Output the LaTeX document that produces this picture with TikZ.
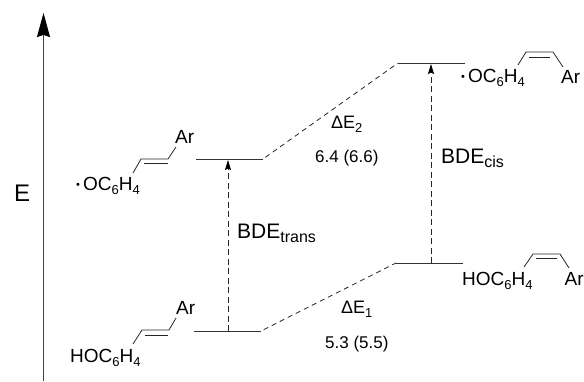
\documentclass[tikz,border=0pt]{standalone}
\usepackage{fontspec}
\setmainfont{Liberation Sans}
\usetikzlibrary{arrows.meta}
\tikzset{
  level/.style={draw=black!80,line width=0.9pt},
  link/.style={draw=black!85,line width=0.8pt,dash pattern=on 5pt off 4pt,shorten <=3pt},
  updash/.style={draw=black!85,line width=0.9pt,dash pattern=on 6pt off 3.5pt,-{Stealth[length=10pt,width=6pt,inset=1.5pt,color=black]}},
  bond/.style={draw=black!85,line width=0.8pt},
  chem/.style={inner sep=0pt,font=\fontsize{19}{19}\selectfont,anchor=base west},
  delta/.style={inner sep=0pt,font=\fontsize{18}{18}\selectfont,anchor=base west},
  lab/.style={inner sep=0pt,font=\fontsize{21}{21}\selectfont,anchor=base west},
  bigE/.style={inner sep=0pt,font=\fontsize{24}{24}\selectfont,anchor=base west},
  small/.style={inner sep=0pt,font=\fontsize{17}{17}\selectfont,anchor=base west}
}
\newcommand{\low}[1]{\raisebox{-4pt}{\fontsize{13}{13}\selectfont #1}}
\newcommand{\lowb}[1]{\raisebox{-4.5pt}{\fontsize{16}{16}\selectfont #1}}
\newcommand{\rdot}{\raisebox{2pt}{\fontsize{11}{11}\selectfont •}\hspace{3pt}}
\begin{document}
\begin{tikzpicture}[x=1pt,y=-1pt]
\useasboundingbox (0,0) rectangle (584,381);
\fill[white] (0,0) rectangle (584,381);
% axis
\coordinate (axb) at (43.5,381);
\coordinate (axt) at (43.5,13);
\draw[draw=black!75,line width=1pt,-{Stealth[length=24pt,width=13pt,inset=2pt,color=black]}] (axb) -- (axt);
\node[bigE] (e) at (14,201) {E};
% levels
\coordinate (tr1) at (196,159); \coordinate (tr2) at (263,159);
\coordinate (cr1) at (398,63);  \coordinate (cr2) at (465,63);
\coordinate (tp1) at (194,331); \coordinate (tp2) at (261,331);
\coordinate (cp1) at (396,263); \coordinate (cp2) at (463,263);
\draw[level] (tr1) -- (tr2);
\draw[level] (cr1) -- (cr2);
\draw[level] (tp1) -- (tp2);
\draw[level] (cp1) -- (cp2);
\draw[link] (tr2) -- (cr1);
\draw[link] (tp2) -- (cp1);
% vertical arrows
\coordinate (va1) at (228,331); \coordinate (va2) at (228,160);
\coordinate (vb1) at (431,263); \coordinate (vb2) at (431,64);
\draw[updash] (va1) -- (va2);
\draw[updash] (vb1) -- (vb2);
% labels
\node[lab] (bdet) at (237,238) {BDE\lowb{trans}};
\node[lab] (bdec) at (441,163) {BDE\lowb{cis}};
\node[delta] (d2) at (331,128) {ΔE\low{2}};
\node[delta] (d1) at (341,313) {ΔE\low{1}};
\node[small] (v2) at (315,162) {6.4 (6.6)};
\node[small] (v1) at (325,348) {5.3 (5.5)};
% trans radical
\node[chem] (r1) at (76,190) {\rdot OC\low{6}H\low{4}};
\node[chem] (ar1) at (175,143) {Ar};
\draw[bond] (133,173) -- (141,159) -- (168,159) -- (176,147);
\draw[bond] (144,163) -- (168,163);
% trans phenol
\node[chem] (r2) at (70,362) {HOC\low{6}H\low{4}};
\node[chem] (ar2) at (176,314) {Ar};
\draw[bond] (133,344) -- (142,330) -- (169,330) -- (176,318);
\draw[bond] (145,335) -- (168,335);
% cis radical
\node[chem] (r3) at (461,82) {\rdot OC\low{6}H\low{4}};
\node[chem] (ar3) at (561,83) {Ar};
\draw[bond] (518,65) -- (526,52) -- (553,52) -- (563,67);
\draw[bond] (529,57) -- (550,57);
% cis phenol
\node[chem] (r4) at (462,285) {HOC\low{6}H\low{4}};
\node[chem] (ar4) at (564.5,285) {Ar};
\draw[bond] (524,267) -- (533,254) -- (560,254) -- (569,268);
\draw[bond] (536,258) -- (557,258);
\end{tikzpicture}
\end{document}
